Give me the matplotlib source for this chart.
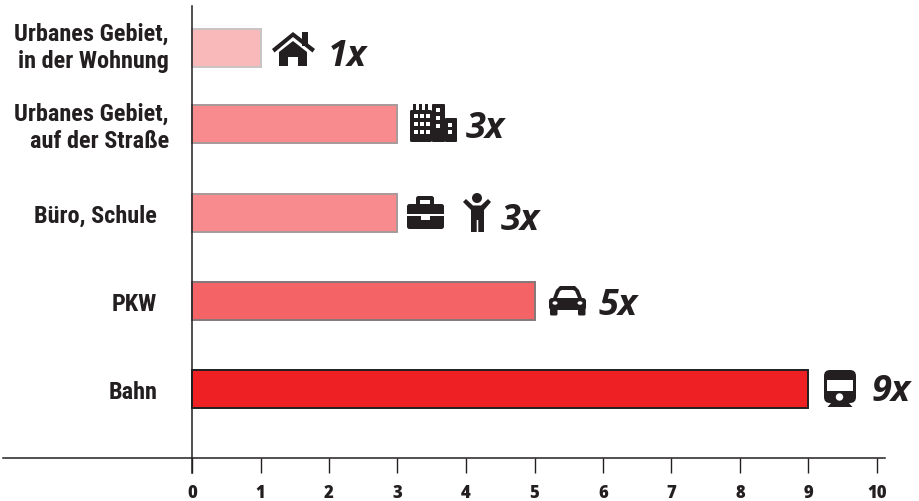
import matplotlib
matplotlib.use('Agg')
import matplotlib.pyplot as plt
from matplotlib.patches import Polygon, Rectangle, FancyBboxPatch, Circle, Ellipse

# daten
kategorien = ['Urbanes Gebiet,\nin der Wohnung', 'Urbanes Gebiet,\nauf der Straße', 'Büro, Schule', 'PKW', 'Bahn']
werte = [1, 3, 3, 5, 9]
x_ticks = [0, 1, 2, 3, 4, 5, 6, 7, 8, 9, 10]

# layout, alles in pixeln des bildes
bar_y = [48, 124, 212.5, 301, 389]
bar_h = 38
farben = ['#f9b8b9', '#f78b8e', '#f78b8e', '#f46365', '#ee2024']
kanten = ['#c9c4c4', '#a89a9a', '#a89a9a', '#85787a', '#231f20']
label_x = [169, 169, 157, 157, 157]
label_y = [47, 127, 215, 304, 392]
wert_x = [328, 466, 501, 599, 871]
wert_y = [65, 137, 229, 314, 400]

dunkel = '#231f20'
x0 = 192
px = 68.5

fig = plt.figure(figsize=(9.2, 5.02), dpi=100)
ax = fig.add_axes([0, 0, 1, 1])
ax.set_xlim(-x0 / px, (920 - x0) / px)
ax.set_ylim(501, -1)
ax.patch.set_alpha(0)

ax.barh(bar_y, werte, height=bar_h, color=farben, edgecolor=kanten, linewidth=1.4, zorder=2)

for s in ['top', 'right']:
    ax.spines[s].set_visible(False)
ax.spines['left'].set_position(('data', 0))
ax.spines['left'].set_bounds(6, 473)
ax.spines['bottom'].set_position(('data', 458))
ax.spines['bottom'].set_bounds((3 - x0) / px, (885 - x0) / px)
for s in ['left', 'bottom']:
    ax.spines[s].set_color(dunkel)
    ax.spines[s].set_linewidth(1.1)
    ax.spines[s].set_zorder(3)

ax.set_yticks([])
ax.set_xticks(x_ticks)
ax.tick_params(axis='x', length=10.5, width=1.0, color=dunkel, pad=8, labelcolor=dunkel)
for t in ax.get_xticklabels():
    t.set_fontfamily('Open Sans')
    t.set_fontweight(800)
    t.set_fontsize(12)

for name, lx, ly in zip(kategorien, label_x, label_y):
    ax.text((lx - x0) / px, ly, name, ha='right', va='center', color=dunkel, fontsize=17.5,
            fontweight='bold', family='Roboto Condensed', linespacing=1.2)

for w, vx, vy in zip(werte, wert_x, wert_y):
    ax.text((vx - x0) / px, vy, f'{w}x', ha='left', va='baseline', color=dunkel, fontsize=26,
            fontweight='bold', style='italic', family='Open Sans')

# ikonen, in pixeln gezeichnet
ov = fig.add_axes([0, 0, 1, 1])
ov.set_xlim(0, 920)
ov.set_ylim(501, -1)
ov.axis('off')


def poly(pts, c=dunkel):
    ov.add_patch(Polygon(pts, closed=True, fc=c, ec='none'))


def rect(x, y, w, h, c=dunkel):
    ov.add_patch(Rectangle((x, y), w, h, fc=c, ec='none'))


def rund(x, y, w, h, r, c=dunkel):
    ov.add_patch(FancyBboxPatch((x + r, y + r), w - 2 * r, h - 2 * r, boxstyle=f'round,pad={r}',
                                fc=c, ec='none'))


# haus
rect(302, 32, 6, 14)
poly([(272, 49), (293, 32), (315, 49), (312.5, 52.5), (293, 37), (274.5, 52.5)])
poly([(279, 52), (293, 41), (307, 52), (307, 66), (298, 66), (298, 57), (288, 57), (288, 66), (279, 66)])

# gebaeude
rund(410, 110, 22, 32, 1.5)
rund(432, 104, 13, 38, 1)
rund(445, 118, 12, 24, 1)
rect(413, 104, 3.5, 7)
rect(419, 104, 3.5, 7)
rect(425, 104, 3.5, 7)
for bx in [414, 420, 426]:
    for by in [114, 122, 129.5]:
        rect(bx, by, 4, 4, 'white')
for by in [108, 116, 123.5]:
    rect(436, by, 4, 4, 'white')
for by in [122.5, 129.5]:
    rect(448.5, by, 4, 4, 'white')

# koffer
rund(407, 204, 37, 25, 2.5)
rund(416, 196, 18, 11, 2.5)
rect(420, 200, 10, 4, 'white')
rect(407, 214, 37, 2, 'white')
rect(421, 214, 9, 6, 'white')

# person
ov.add_patch(Circle((477, 198), 5, fc=dunkel, ec='none'))
poly([(463, 202), (466, 199), (473, 205.5), (481, 205.5), (488, 199), (491, 202), (484, 210), (484, 232),
      (478.3, 232), (478.3, 220), (476.7, 220), (476.7, 232), (471, 232), (471, 210)])

# auto
rund(549, 298, 37, 12, 3)
poly([(552, 301), (556, 290), (560, 286), (575, 286), (579, 290), (583, 301)])
poly([(557, 298), (560, 291), (562, 290), (573, 290), (575, 291), (578, 298)], 'white')
rund(550, 307, 7.5, 8.5, 1.5)
rund(578, 307, 7.5, 8.5, 1.5)
ov.add_patch(Ellipse((555, 303), 5, 3.5, fc='white', ec='none'))
ov.add_patch(Ellipse((580, 303), 5, 3.5, fc='white', ec='none'))

# zug
rund(824, 370, 32, 33, 6)
rect(827, 380, 26, 11, 'white')
ov.add_patch(Circle((839.5, 397), 3.7, fc='white', ec='none'))
poly([(827.5, 407), (832, 402), (848, 402), (852.5, 407)])

fig.savefig('out.png', dpi=100)
